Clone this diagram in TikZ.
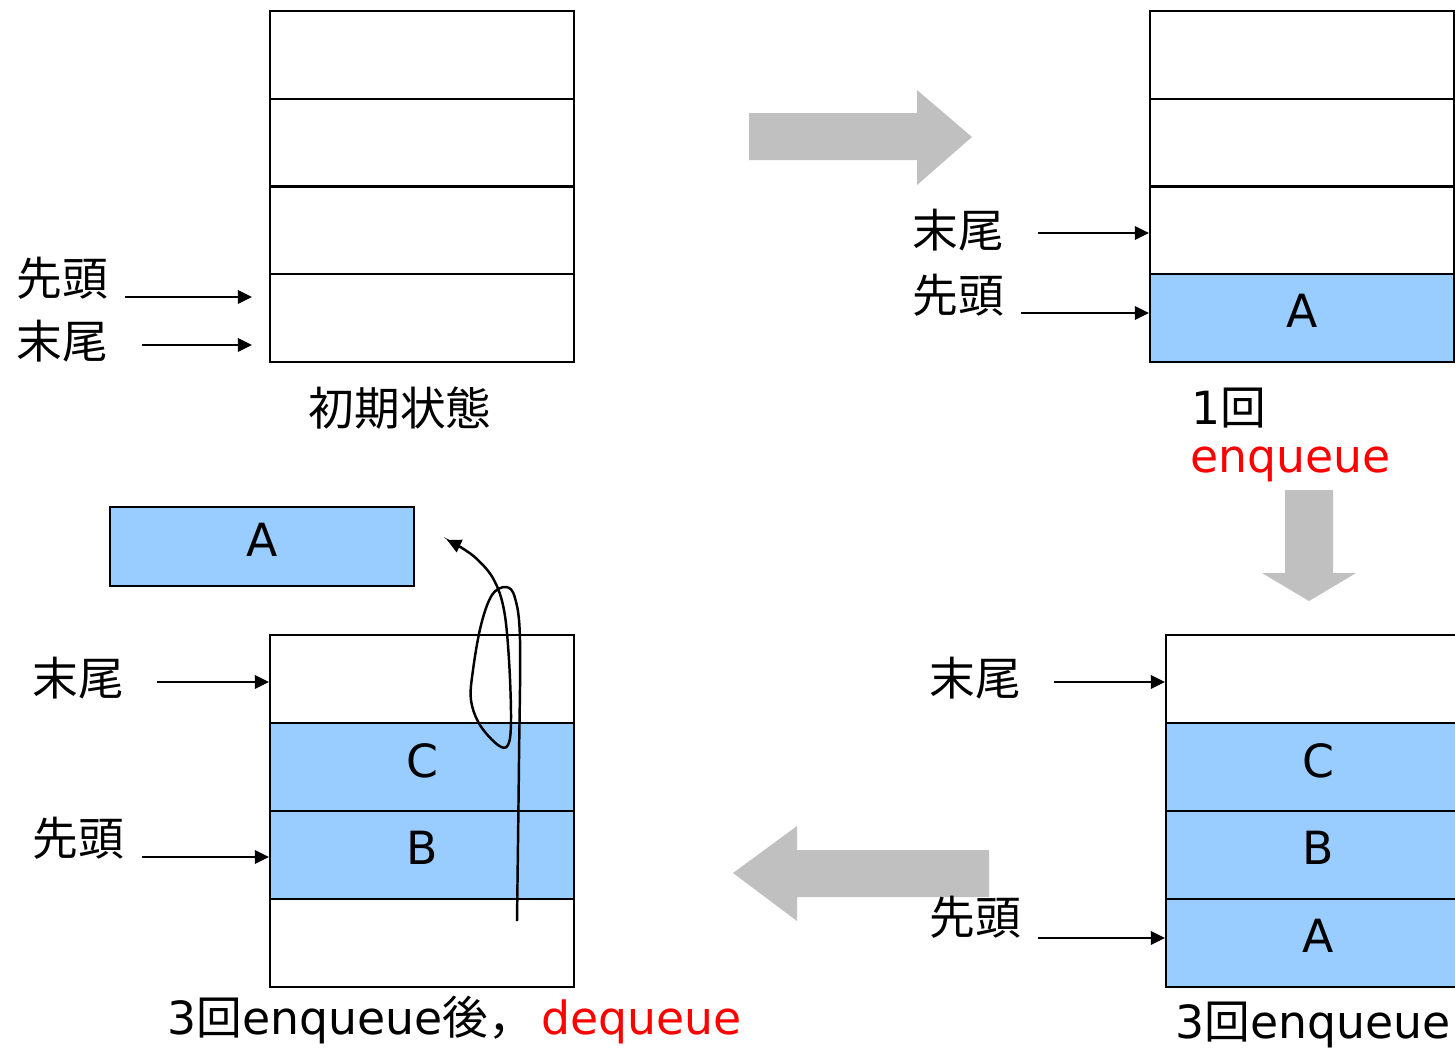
\documentclass[tikz,border=0pt]{standalone}
\usepackage{fontspec}
\setmainfont{DejaVu Sans}
\newfontfamily\cjk{Noto Sans CJK JP}
\usetikzlibrary{arrows.meta}
\definecolor{qblue}{HTML}{99CCFF}
\definecolor{qgray}{HTML}{C0C0C0}
\newcommand{\cellletter}[1]{\raisebox{4pt}{#1}}
\begin{document}
\begin{tikzpicture}[x=0.01cm,y=-0.01cm,
  every node/.style={font=\fontsize{13pt}{15pt}\selectfont},
  cell/.style={draw, line width=0.6pt, minimum width=3.04cm, minimum height=0.88cm, inner sep=0pt, anchor=north west},
  full/.style={cell, fill=qblue},
  lbl/.style={inner sep=0pt, anchor=west, font=\fontsize{13pt}{15pt}\selectfont\cjk},
  ptr/.style={line width=0.6pt, -{Triangle[length=4pt,width=3.8pt]}},
  blockarrow/.style={fill=qgray, draw=none}]
\useasboundingbox (0,0) rectangle (1455,1050);
\clip (0,0) rectangle (1455,1050);

% ---------- top-left: initial state ----------
\node[cell] (tl1) at (269,10) {};
\node[cell] (tl2) at (269,98) {};
\node[cell] (tl3) at (269,185) {};
\node[cell] (tl4) at (269,273) {};
\node[lbl] (tlhead) at (16,278) {先頭};
\node[lbl] (tltail) at (16,341) {末尾};
\coordinate (tlhs) at (125,297); \coordinate (tlhe) at (252,297);
\coordinate (tlts) at (142,345); \coordinate (tlte) at (252,345);
\draw[ptr] (tlhs) -- (tlhe);
\draw[ptr] (tlts) -- (tlte);
\node[lbl, anchor=center] (tlcap) at (400,408) {初期状態};

% ---------- top-right: 1 enqueue ----------
\node[cell] (tr1) at (1149,10) {};
\node[cell] (tr2) at (1149,98) {};
\node[cell] (tr3) at (1149,185) {};
\node[full] (tr4) at (1149,273) {\cellletter{A}};
\node[lbl] (trtail) at (912,230) {末尾};
\node[lbl] (trhead) at (912,295) {先頭};
\coordinate (trts) at (1038,233); \coordinate (trhs) at (1021,313);
\draw[ptr] (trts) -- (trts -| tr3.west);
\draw[ptr] (trhs) -- (trhs -| tr4.west);
\node[inner sep=0pt, anchor=base west] (trcap1) at (1191,424) {1{\cjk 回}};
\node[inner sep=0pt, anchor=base west, text=red] (trcap2) at (1190,472) {enqueue};

% ---------- bottom-right: 3 enqueue ----------
\node[cell] (br1) at (1165,634) {};
\node[full] (br2) at (1165,722) {\cellletter{C}};
\node[full] (br3) at (1165,810) {\cellletter{B}};
\node[full] (br4) at (1165,898) {\cellletter{A}};
\node[lbl] (brtail) at (929,678) {末尾};
\coordinate (brts) at (1054,682); \coordinate (brhs) at (1038,938);
\draw[ptr] (brts) -- (brts -| br1.west);
\draw[ptr] (brhs) -- (brhs -| br4.west);
\node[inner sep=0pt, anchor=base west] (brcap) at (1175,1038) {3{\cjk 回}enqueue};

% ---------- bottom-left: dequeue ----------
\node[full, minimum height=0.79cm] (deq) at (109,506) {\cellletter{A}};
\node[cell] (bl1) at (269,634) {};
\node[full] (bl2) at (269,722) {\cellletter{C}};
\node[full] (bl3) at (269,810) {\cellletter{B}};
\node[cell] (bl4) at (269,898) {};
\node[lbl] (bltail) at (32,678) {末尾};
\node[lbl] (blhead) at (32,838) {先頭};
\coordinate (blts) at (157,682); \coordinate (blhs) at (142,857);
\draw[ptr] (blts) -- (blts -| bl1.west);
\draw[ptr] (blhs) -- (blhs -| bl3.west);
\node[inner sep=0pt, anchor=base west] (blcap) at (167,1034) {3{\cjk 回}enqueue{\cjk 後，}\hspace{0.07cm}\textcolor{red}{dequeue}};

% hand-drawn stroke
\draw[ptr, line width=0.7pt] plot[smooth, tension=0.6] coordinates {
  (517,921) (519,760) (520,640) (515,598) (506,587) (492,595) (481,625)
  (473,670) (471,700) (480,725) (498,745) (508,745) (511,720) (509,660)
  (504,610) (494,580) (478,560) (462,548) (447,540)};

% ---------- block arrows ----------
\fill[blockarrow] (749,113) -- (917,113) -- (917,90) -- (972,137) -- (917,185) -- (917,160) -- (749,160) -- cycle;
\fill[blockarrow] (1285,490) -- (1333,490) -- (1333,573) -- (1356,573) -- (1309,601) -- (1262,573) -- (1285,573) -- cycle;
\fill[blockarrow] (989,850) -- (797,850) -- (797,826) -- (733,873) -- (797,921) -- (797,897) -- (989,897) -- cycle;
\node[lbl] (brhead) at (929,917) {先頭};
\end{tikzpicture}
\end{document}
